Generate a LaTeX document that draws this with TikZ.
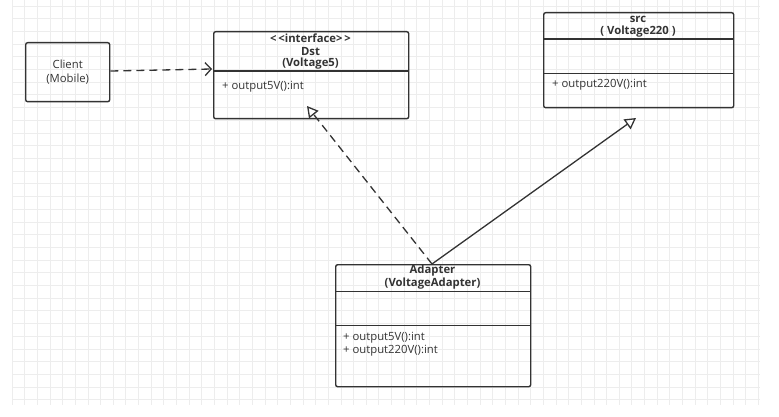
\documentclass[tikz,border=0pt]{standalone}
\usepackage{fontspec}
\setmainfont{Open Sans}
\usetikzlibrary{arrows.meta}
\definecolor{ink}{HTML}{333333}
\definecolor{gridc}{HTML}{EDEDED}
\begin{document}
\begin{tikzpicture}[x=1pt,y=-1pt,
  box/.style={draw=ink,line width=1.4pt,rounded corners=2pt},
  sep/.style={draw=ink,line width=1.4pt},
  ttl/.style={font=\bfseries\fontsize{11.3}{13}\selectfont,text=ink,inner sep=0pt,align=center},
  txt/.style={font=\fontsize{11.3}{13}\selectfont,text=ink,inner sep=0pt,anchor=west},
  conn/.style={draw=ink,line width=1.3pt},
  dashline/.style={dash pattern=on 8pt off 5pt},
  openv/.style={-{Straight Barb[length=6pt,width=13pt,line width=1.3pt]}},
  opentri/.style={-{Triangle[open,length=11pt,width=12pt,line width=1.3pt,fill=white]}}
]
\useasboundingbox (0,0) rectangle (779,417);
\fill[white] (0,0) rectangle (779,417);
% grid
\foreach \i in {0,...,59}{\draw[gridc,line width=0.8pt] (12+12.65*\i,0) -- (12+12.65*\i,405);}
\foreach \j in {0,...,31}{\draw[gridc,line width=0.8pt] (12,6+12.7*\j) -- (760,6+12.7*\j);}

% Client
\node[box,minimum width=84pt,minimum height=59pt,inner sep=0pt,anchor=north west] (client) at (25,42) {};
\node[font=\fontsize{11.3}{14}\selectfont,text=ink,align=center,inner sep=0pt] (clientt) at (client.center) {Client\\(Mobile)};

% Dst
\node[box,minimum width=195pt,minimum height=87pt,inner sep=0pt,anchor=north west] (dst) at (213,31) {};
\draw[sep] (213,71) -- (408,71);
\node[ttl] (dstt1) at (310.5,38.5) {{<}\,{<}interface{>}\,{>}};
\node[ttl] (dstt2) at (310.5,51.5) {Dst};
\node[ttl] (dstt3) at (310.5,64) {(Voltage5)};
\node[txt] (dstm) at (222,87) {+ output5V():int};

% src
\node[box,minimum width=190pt,minimum height=95pt,inner sep=0pt,anchor=north west] (src) at (543,12) {};
\draw[sep] (543,39) -- (733,39);
\draw[sep] (543,73.5) -- (733,73.5);
\node[ttl] (srct1) at (638,19.5) {src};
\node[ttl] (srct2) at (638,31.5) {( Voltage220 )};
\node[txt] (srcm) at (552,85) {+ output220V():int};

% Adapter
\node[box,minimum width=195pt,minimum height=122pt,inner sep=0pt,anchor=north west] (ad) at (335,264) {};
\draw[sep] (335,291.5) -- (530,291.5);
\draw[sep] (335,325.5) -- (530,325.5);
\node[ttl] (adt1) at (432.5,271) {Adapter};
\node[ttl] (adt2) at (432.5,284) {(VoltageAdapter)};
\node[txt] (adm1) at (343,338) {+ output5V():int};
\node[txt] (adm2) at (343,351) {+ output220V():int};

% connectors
\coordinate (ctip) at (212,69);
\coordinate (dtip) at (307,106);
\coordinate (stip) at (636,118);
\coordinate (astart) at (432,264);
\draw[conn,dashline,openv] (client.east |- 0,71) -- (ctip);
\draw[conn,dashline,opentri] (astart) -- (dtip);
\draw[conn,opentri] (astart) -- (stip);
\end{tikzpicture}
\end{document}
